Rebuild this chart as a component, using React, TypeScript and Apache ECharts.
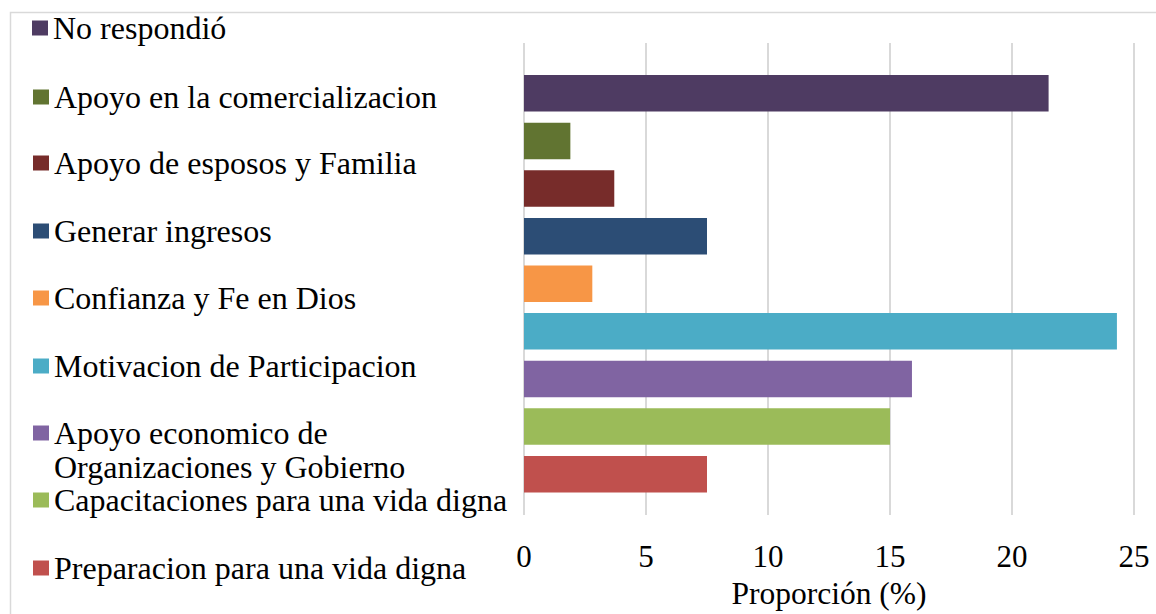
import React, { useEffect, useRef } from "react";
import * as echarts from "echarts";

const categories = [
  "No respondió",
  "Apoyo en la comercializacion",
  "Apoyo de esposos y Familia",
  "Generar ingresos",
  "Confianza y Fe en Dios",
  "Motivacion de Participacion",
  "Apoyo economico de Organizaciones y Gobierno",
  "Capacitaciones para una vida digna",
  "Preparacion para una vida digna",
];

const values = [21.5, 1.9, 3.7, 7.5, 2.8, 24.3, 15.9, 15.0, 7.5];

const colors = [
  "#4E3B62",
  "#617431",
  "#772C2A",
  "#2C4D75",
  "#F79646",
  "#4BACC6",
  "#8064A2",
  "#9BBB59",
  "#C0504D",
];

const axisTitle = "Proporción (%)";

const FONT = "Liberation Serif";

export default function App() {
  const ref = useRef<HTMLDivElement>(null);

  useEffect(() => {
    document.body.style.margin = "0";
    if (!ref.current) return;
    const chart = echarts.init(ref.current, null, { renderer: "svg" });

    const legendCenters = [28, 97, 163, 231, 298, 366, 433, 500, 568];
    const legends = categories.map((name, i) => {
      const multi = i === 6;
      const lh = i === 7 ? 32 : 34;
      return {
        data: [name],
        left: i === 0 ? 32 : 33,
        top: multi ? legendCenters[i] - lh * 1.5 : legendCenters[i] - lh / 2,
        orient: "vertical",
        icon: "rect",
        itemWidth: 16,
        itemHeight: 15,
        padding: 0,
        selectedMode: false,
        formatter: multi
          ? () => "\nApoyo economico de\nOrganizaciones y Gobierno"
          : undefined,
        textStyle: {
          fontFamily: FONT,
          fontSize: 32,
          lineHeight: lh,
          color: "#000000",
        },
      };
    });

    const series = categories.map((name, i) => ({
      name,
      type: "bar",
      stack: "all",
      xAxisIndex: 1,
      yAxisIndex: 1,
      barWidth: 36.5,
      itemStyle: { color: colors[i] },
      data: categories.map((_, j) => (j === i ? values[i] : "-")),
    }));

    chart.setOption({
      animation: false,
      backgroundColor: "#ffffff",
      textStyle: { fontFamily: FONT },
      legend: legends,
      grid: [
        { left: 524, right: 22, top: 43, bottom: 89 },
        { left: 524, right: 22, top: 69.5, bottom: 116 },
      ],
      xAxis: [
        {
          type: "value",
          gridIndex: 0,
          min: 0,
          max: 25,
          interval: 5,
          axisLine: { show: false },
          axisTick: { show: false },
          axisLabel: {
            margin: 26,
            fontFamily: FONT,
            fontSize: 31,
            color: "#000000",
          },
          splitLine: { lineStyle: { color: "#d9d9d9", width: 2 } },
          name: axisTitle,
          nameLocation: "middle",
          nameGap: 59,
          nameTextStyle: { fontFamily: FONT, fontSize: 31.5, color: "#000000" },
        },
        {
          type: "value",
          gridIndex: 1,
          min: 0,
          max: 25,
          show: false,
        },
      ],
      yAxis: [
        { type: "value", gridIndex: 0, show: false },
        {
          type: "category",
          gridIndex: 1,
          data: categories,
          inverse: true,
          show: false,
        },
      ],
      graphic: [
        {
          type: "rect",
          silent: true,
          shape: { x: 10.5, y: 12.5, width: 1300, height: 800 },
          style: { fill: "none", stroke: "#d9d9d9", lineWidth: 1.5 },
        },
      ],
      series,
    });

    return () => chart.dispose();
  }, []);

  return <div ref={ref} style={{ width: 1156, height: 614 }} />;
}
